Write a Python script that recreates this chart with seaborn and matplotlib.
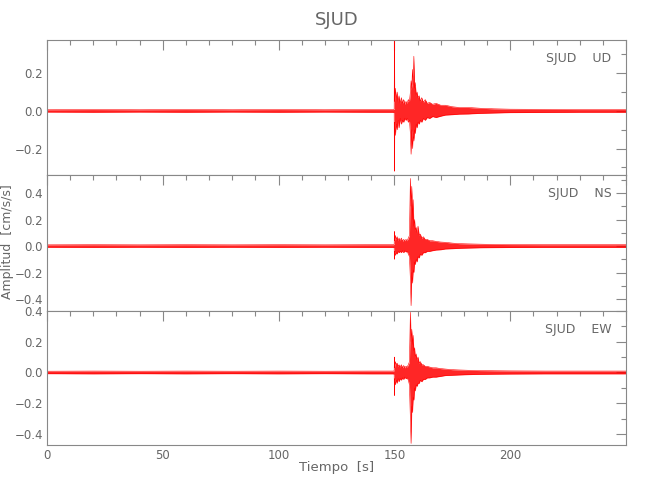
import numpy as np
import pandas as pd
import matplotlib
matplotlib.use("Agg")
import matplotlib.pyplot as plt
from matplotlib.ticker import MultipleLocator
import seaborn as sns

# ---- data (envelopes) ----
station = "SJUD"
channels = ["UD", "NS", "EW"]
time_s = [0, 20, 40, 60, 80, 100, 120, 140, 149.6, 149.9, 150.0, 150.1, 150.4, 150.8,
          151.2, 151.6, 152.0, 152.5, 153.0, 153.5, 154.0, 154.5, 155.0, 155.5, 156.0,
          156.5, 156.9, 157.2, 157.5, 157.8, 158.1, 158.4, 158.7, 159.0, 159.4, 159.8,
          160.2, 160.7, 161.2, 161.8, 162.5, 163.3, 164.2, 165.2, 166.5, 168, 170, 172,
          175, 178, 182, 187, 193, 200, 215, 230, 250]

ud_upper = [0.006, 0.007, 0.006, 0.007, 0.006, 0.007, 0.006, 0.007, 0.007, 0.010, 0.37, 0.05,
            0.12, 0.06, 0.10, 0.05, 0.08, 0.04, 0.07, 0.04, 0.06, 0.035, 0.05, 0.04, 0.06,
            0.05, 0.10, 0.16, 0.12, 0.22, 0.14, 0.29, 0.12, 0.15, 0.08, 0.10, 0.07, 0.08,
            0.05, 0.07, 0.045, 0.06, 0.04, 0.045, 0.035, 0.04, 0.03, 0.03, 0.022, 0.018,
            0.018, 0.014, 0.011, 0.009, 0.008, 0.007, 0.007]
ud_lower = [-0.006, -0.007, -0.006, -0.007, -0.006, -0.007, -0.006, -0.007, -0.007, -0.010,
            -0.32, -0.06, -0.13, -0.07, -0.10, -0.05, -0.09, -0.04, -0.07, -0.05, -0.06,
            -0.04, -0.05, -0.04, -0.06, -0.05, -0.12, -0.23, -0.10, -0.20, -0.12, -0.16,
            -0.10, -0.12, -0.07, -0.09, -0.06, -0.07, -0.05, -0.06, -0.04, -0.05, -0.035,
            -0.04, -0.03, -0.035, -0.028, -0.022, -0.02, -0.017, -0.016, -0.013, -0.011,
            -0.009, -0.008, -0.007, -0.007]

ns_upper = [0.009, 0.010, 0.009, 0.010, 0.009, 0.010, 0.009, 0.010, 0.010, 0.012, 0.11, 0.04,
            0.08, 0.05, 0.07, 0.04, 0.06, 0.04, 0.06, 0.035, 0.05, 0.04, 0.05, 0.04, 0.06,
            0.08, 0.51, 0.30, 0.45, 0.20, 0.35, 0.15, 0.20, 0.12, 0.14, 0.10, 0.15, 0.08,
            0.09, 0.06, 0.07, 0.05, 0.05, 0.04, 0.04, 0.035, 0.03, 0.028, 0.022, 0.018,
            0.016, 0.014, 0.012, 0.011, 0.010, 0.010, 0.010]
ns_lower = [-0.009, -0.010, -0.009, -0.010, -0.009, -0.010, -0.009, -0.010, -0.010, -0.012,
            -0.10, -0.04, -0.07, -0.05, -0.06, -0.04, -0.05, -0.04, -0.05, -0.035, -0.05,
            -0.035, -0.045, -0.04, -0.06, -0.08, -0.25, -0.45, -0.20, -0.28, -0.18, -0.20,
            -0.12, -0.14, -0.10, -0.12, -0.08, -0.09, -0.06, -0.07, -0.05, -0.05, -0.04,
            -0.04, -0.035, -0.03, -0.028, -0.022, -0.02, -0.017, -0.015, -0.013, -0.012,
            -0.011, -0.010, -0.010, -0.010]

ew_upper = [0.008, 0.009, 0.008, 0.009, 0.008, 0.009, 0.008, 0.009, 0.009, 0.012, 0.10, 0.03,
            0.07, 0.05, 0.06, 0.04, 0.05, 0.035, 0.05, 0.03, 0.045, 0.03, 0.04, 0.035, 0.05,
            0.07, 0.39, 0.20, 0.28, 0.18, 0.24, 0.14, 0.16, 0.10, 0.12, 0.08, 0.10, 0.06,
            0.07, 0.05, 0.05, 0.04, 0.04, 0.035, 0.03, 0.03, 0.025, 0.022, 0.018, 0.016,
            0.014, 0.012, 0.011, 0.010, 0.009, 0.009, 0.009]
ew_lower = [-0.008, -0.009, -0.008, -0.009, -0.008, -0.009, -0.008, -0.009, -0.009, -0.012,
            -0.15, -0.04, -0.08, -0.05, -0.07, -0.04, -0.06, -0.04, -0.05, -0.035, -0.045,
            -0.03, -0.04, -0.035, -0.05, -0.08, -0.30, -0.46, -0.22, -0.26, -0.16, -0.18,
            -0.10, -0.12, -0.08, -0.09, -0.07, -0.07, -0.05, -0.06, -0.045, -0.045, -0.035,
            -0.035, -0.03, -0.03, -0.025, -0.02, -0.018, -0.016, -0.014, -0.012, -0.011,
            -0.010, -0.009, -0.009, -0.009]

y_limits = [(-0.34, 0.376), (-0.488, 0.536), (-0.47, 0.40)]
y_ticks = [[-0.2, 0.0, 0.2], [-0.4, -0.2, 0.0, 0.2, 0.4], [-0.4, -0.2, 0.0, 0.2, 0.4]]
x_ticks = [0, 50, 100, 150, 200]

uppers = [ud_upper, ns_upper, ew_upper]
lowers = [ud_lower, ns_lower, ew_lower]

# ---- style ----
sns.set_style("white")
plt.rcParams['font.family'] = ['Liberation Sans Narrow', 'DejaVu Sans']
txt = '#666666'
spine_c = '#888888'

fig = plt.figure(figsize=(6.5, 5), dpi=100)
left, right = 47 / 650, 626 / 650
tops = [40, 175, 310.7]
bots = [175, 310.7, 445]
axes = []
for i in range(3):
    ax = fig.add_axes([left, 1 - bots[i] / 500, right - left, (bots[i] - tops[i]) / 500])
    axes.append(ax)

for i, ax in enumerate(axes):
    df = pd.DataFrame({"t": time_s, "up": uppers[i], "lo": lowers[i]})
    ax.fill_between(df["t"], df["lo"], df["up"], color='#ff0000', lw=0, alpha=0.85)
    sns.lineplot(data=df, x="t", y="up", ax=ax, color='#ff0000', lw=0.4)
    sns.lineplot(data=df, x="t", y="lo", ax=ax, color='#ff0000', lw=0.4)
    ax.set_xlim(0, 250)
    ax.set_ylim(*y_limits[i])
    ax.set_yticks(y_ticks[i])
    ax.set_yticklabels([f"{v:.1f}".replace("-", "\u2212") for v in y_ticks[i]])
    ax.yaxis.set_minor_locator(MultipleLocator(0.1))
    ax.set_xticks(x_ticks + [250])
    ax.xaxis.set_minor_locator(MultipleLocator(10))
    ax.tick_params(which='both', direction='in', top=True, right=True, colors=spine_c,
                   labelcolor=txt, labelsize=8.5, pad=3)
    ax.tick_params(which='major', length=7, width=0.8)
    ax.tick_params(which='minor', length=3.5, width=0.8)
    for s in ax.spines.values():
        s.set_color(spine_c)
        s.set_linewidth(0.8)
    ax.set_xlabel("")
    ax.set_ylabel("")
    if i < 2:
        ax.set_xticklabels([])
    else:
        ax.set_xticklabels([str(v) for v in x_ticks] + [""])
    ax.text(0.975, 0.86, f"{station}    {channels[i]}", transform=ax.transAxes,
            ha='right', va='center', color=txt, fontsize=9)

fig.text(0.5 * (left + right), 1 - 20 / 500, station, ha='center', va='center',
         color=txt, fontsize=13)
fig.text(0.5 * (left + right), 1 - 467 / 500, "Tiempo  [s]", ha='center', va='center',
         color=txt, fontsize=9.5)
fig.text(8 / 650, 1 - 242 / 500, "Amplitud  [cm/s/s]", ha='center', va='center',
         rotation=90, color=txt, fontsize=9)

fig.savefig("out.png", dpi=100, facecolor='white')
